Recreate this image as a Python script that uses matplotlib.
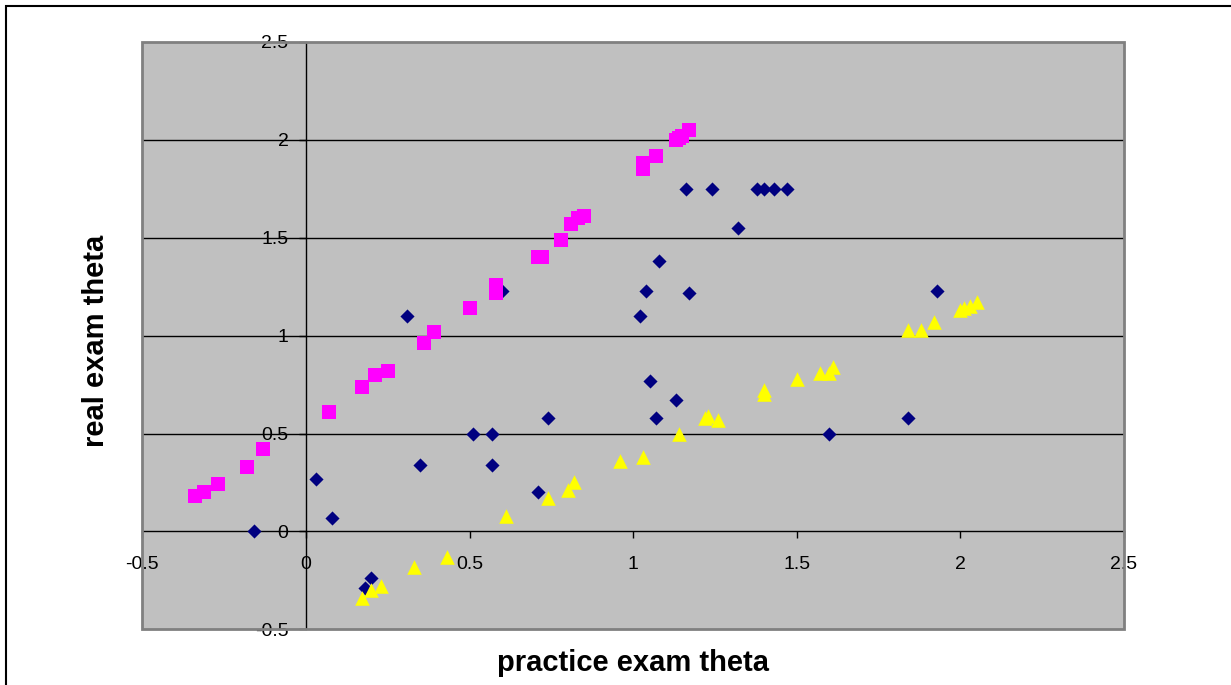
import matplotlib
matplotlib.use("Agg")
import matplotlib.pyplot as plt
from matplotlib.patches import Rectangle

plt.rcParams['font.family'] = ['Liberation Sans', 'DejaVu Sans']

# series
blue_x = [-0.16, 0.03, 0.08, 0.20, 0.18, 0.31, 0.35, 0.51, 0.57, 0.57, 0.60, 0.71, 0.74,
          1.02, 1.04, 1.08, 1.05, 1.07, 1.13, 1.17, 1.16, 1.24, 1.32, 1.38, 1.40, 1.43,
          1.47, 1.60, 1.84, 1.93]
blue_y = [0.00, 0.27, 0.07, -0.24, -0.29, 1.10, 0.34, 0.50, 0.50, 0.34, 1.23, 0.20, 0.58,
          1.10, 1.23, 1.38, 0.77, 0.58, 0.67, 1.22, 1.75, 1.75, 1.55, 1.75, 1.75, 1.75,
          1.75, 0.50, 0.58, 1.23]

pink_x = [-0.34, -0.31, -0.27, -0.18, -0.13, 0.07, 0.17, 0.21, 0.25, 0.36, 0.39, 0.50,
          0.58, 0.58, 0.71, 0.72, 0.78, 0.81, 0.83, 0.85, 1.03, 1.03, 1.07, 1.13, 1.14,
          1.15, 1.17]
pink_y = [0.18, 0.20, 0.24, 0.33, 0.42, 0.61, 0.74, 0.80, 0.82, 0.96, 1.02, 1.14,
          1.26, 1.22, 1.40, 1.40, 1.49, 1.57, 1.60, 1.61, 1.85, 1.88, 1.92, 2.00, 2.01,
          2.02, 2.05]

yellow_x = [0.17, 0.20, 0.23, 0.33, 0.43, 0.61, 0.74, 0.80, 0.82, 0.96, 1.03, 1.14,
            1.22, 1.23, 1.26, 1.40, 1.40, 1.50, 1.57, 1.60, 1.61, 1.84, 1.88, 1.92,
            2.00, 2.01, 2.03, 2.05]
yellow_y = [-0.34, -0.30, -0.28, -0.18, -0.13, 0.08, 0.17, 0.21, 0.25, 0.36, 0.38, 0.50,
            0.58, 0.59, 0.57, 0.70, 0.72, 0.78, 0.81, 0.81, 0.84, 1.03, 1.03, 1.07,
            1.13, 1.14, 1.15, 1.17]

ticks = [-0.5, 0, 0.5, 1, 1.5, 2, 2.5]
tick_labels = ['-0.5', '0', '0.5', '1', '1.5', '2', '2.5']

fig = plt.figure(figsize=(12.31, 6.85), dpi=100)
ax = fig.add_axes([142.3 / 1231, 1 - 629.3 / 685, (1124 - 142.3) / 1231, (629.3 - 42) / 685])
ax.set_facecolor('#C0C0C0')
ax.set_xlim(-0.5, 2.5)
ax.set_ylim(-0.5, 2.5)

# horizontal gridlines
for g in [0.5, 1, 1.5, 2]:
    ax.axhline(g, color='black', lw=1.0, zorder=1)

ax.scatter(blue_x, blue_y, marker='D', s=7.2**2, color='#000080', lw=0, zorder=3)
ax.scatter(pink_x, pink_y, marker='s', s=10**2, color='#FF00FF', lw=0, zorder=4)
ax.scatter(yellow_x, yellow_y, marker='^', s=10.5**2, color='#FFFF00', lw=0, zorder=5)

# axes cross at zero, excel style
ax.spines['left'].set_position(('data', 0))
ax.spines['bottom'].set_position(('data', 0))
ax.spines['top'].set_visible(False)
ax.spines['right'].set_visible(False)
for sp in ['left', 'bottom']:
    ax.spines[sp].set_color('black')
    ax.spines[sp].set_linewidth(1.0)
    ax.spines[sp].set_zorder(2)

ax.set_xticks(ticks)
ax.set_xticklabels(tick_labels)
ax.set_yticks(ticks)
ax.set_yticklabels(tick_labels)
ax.tick_params(axis='x', direction='out', length=5, width=1, pad=13, labelsize=14)
ax.tick_params(axis='y', direction='out', length=5, width=1, pad=7.5, labelsize=14)

# plot area border
ax.add_patch(Rectangle((0, 0), 1, 1, transform=ax.transAxes, fill=False,
                       edgecolor='#808080', lw=2, zorder=6, clip_on=False))

fig.text(96 / 1231, 1 - 341 / 685, 'real exam theta', rotation=90, ha='center',
         va='center', fontsize=21, fontweight='bold')
fig.text(633 / 1231, 1 - 663 / 685, 'practice exam theta', ha='center',
         va='center', fontsize=21, fontweight='bold')

# outer chart border (only top and left fall inside the image)
fig.add_artist(Rectangle((6 / 1231, -0.1), 1.2, 1 - 6 / 685 + 0.1,
                         transform=fig.transFigure, fill=False,
                         edgecolor='black', lw=1.5))

fig.savefig('out.png', dpi=100)
